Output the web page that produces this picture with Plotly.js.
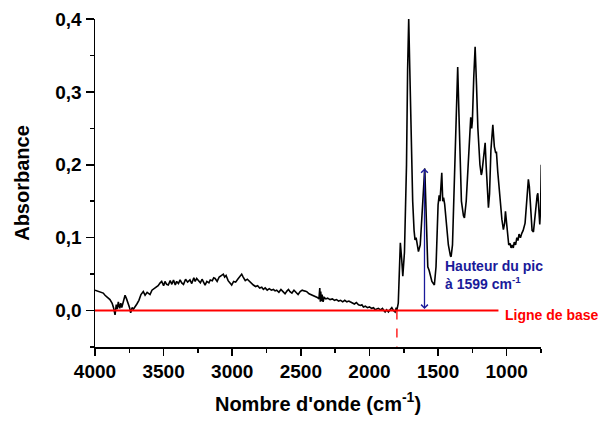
<!DOCTYPE html>
<html>
<head>
<meta charset="utf-8">
<script src="https://cdn.plot.ly/plotly-3.0.1.min.js"></script>
<style>html,body{margin:0;padding:0;background:#fff;}#chart{width:600px;height:423px;}</style>
</head>
<body>
<div id="chart"></div>
<script>
// Wavenumbers (cm-1) and absorbance
const wavenumber = [
4000,3980,3960,3940,3927,3910,3891,3875,3865,3854,3845,3838,3830,3820,3812,3805,3795,3781,3770,3757,3748,3740,3730,3720,3708,3695,3680,3665,3648,3635,3620,3599,3585,3570,3555,3540,3525,3514,3500,3490,3478,3466,3452,3440,3428,3415,3405,3392,3380,3368,3355,3340,3325,3308,3295,3280,3270,3259,3245,3232,3220,3210,3198,3185,3170,3160,3145,3135,3125,3110,3095,3080,3065,3055,3045,3030,3015,3004,2990,2975,2960,2945,2931,2920,2905,2890,2875,2860,2846,2830,2815,2800,2785,2773,2760,2745,2730,2715,2700,2688,2676,2660,2645,2630,2615,2600,2590,2579,2565,2550,2535,2520,2505,2490,2475,2457,2440,2425,2410,2395,2380,2368,2362,2358,2355,2350,2345,2338,2330,2318,2305,2287,2270,2255,2240,2225,2210,2195,2180,2165,2150,2141,2125,2110,2095,2080,2065,2055,2044,2030,2015,2000,1985,1970,1960,1947,1935,1920,1905,1895,1886,1875,1862,1850,1837,1825,1813,1805,1800,
1790,1775,1765,1757,1745,1730,1722,1714,1706,1695,1685,1675,1668,1660,1650,1643,1630,1615,1605,1597,1590,1580,1575,1565,1545,1527,1515,1500,1492,1486,1478,1473,1466,1460,1452,1440,1425,1410,1405,1395,1385,1375,1365,1357,1348,1340,1330,1315,1308,1295,1280,1268,1262,1255,1250,1240,1230,1220,1210,1195,1185,1180,1170,1157,1150,1140,1133,1125,1115,1101,1090,1080,1075,1065,1055,1048,1035,1024,1015,1009,1000,992,985,975,968,960,952,945,935,926,918,910,900,890,880,866,855,848,842,835,825,815,805,795,785,778,773,766,759,753,748
];
const absorbance = [
0.028,0.027,0.025,0.024,0.021,0.018,0.015,0.010,0.004,-0.006,0.008,0.002,0.012,0.003,0.010,0.004,0.012,0.021,0.016,0.010,0.004,-0.003,0.004,0.002,0.005,0.009,0.014,0.022,0.026,0.021,0.025,0.022,0.028,0.030,0.032,0.034,0.038,0.040,0.034,0.040,0.036,0.035,0.041,0.036,0.042,0.035,0.040,0.037,0.042,0.038,0.036,0.043,0.039,0.042,0.037,0.045,0.040,0.044,0.041,0.038,0.043,0.039,0.035,0.040,0.038,0.042,0.041,0.045,0.044,0.040,0.046,0.048,0.050,0.046,0.048,0.041,0.038,0.035,0.040,0.039,0.043,0.046,0.050,0.046,0.041,0.043,0.040,0.038,0.035,0.033,0.034,0.031,0.032,0.029,0.031,0.028,0.030,0.028,0.029,0.027,0.028,0.025,0.029,0.026,0.023,0.027,0.029,0.026,0.024,0.028,0.025,0.022,0.026,0.028,0.027,0.026,0.023,0.022,0.020,0.019,0.018,0.016,0.031,0.012,0.026,0.013,0.022,0.012,0.018,0.016,0.017,0.015,0.016,0.014,0.015,0.013,0.014,0.012,0.014,0.012,0.013,0.012,0.010,0.009,0.011,0.008,0.007,0.008,0.005,0.006,0.004,0.005,0.003,0.004,0.001,0.002,0.003,0.001,0.003,0.000,-0.002,0.001,-0.002,0.001,0.004,0.000,-0.002,0.004,0.001,
0.010,0.093,0.070,0.047,0.080,0.200,0.330,0.400,0.330,0.220,0.150,0.110,0.097,0.100,0.085,0.081,0.090,0.130,0.170,0.195,0.150,0.070,0.060,0.055,0.040,0.035,0.060,0.145,0.158,0.150,0.175,0.189,0.150,0.155,0.146,0.120,0.090,0.075,0.074,0.090,0.160,0.240,0.310,0.334,0.270,0.200,0.150,0.130,0.127,0.150,0.210,0.260,0.265,0.250,0.260,0.320,0.362,0.310,0.250,0.200,0.186,0.190,0.210,0.230,0.200,0.155,0.141,0.160,0.220,0.255,0.225,0.216,0.218,0.190,0.165,0.157,0.125,0.111,0.120,0.136,0.115,0.097,0.090,0.092,0.086,0.090,0.086,0.094,0.090,0.100,0.096,0.105,0.100,0.106,0.110,0.120,0.150,0.175,0.180,0.170,0.130,0.110,0.108,0.130,0.150,0.158,0.161,0.135,0.118,0.140,0.200
];
const xTickVals = [4000, 3500, 3000, 2500, 2000, 1500, 1000];
const yTickVals = [0.0, 0.1, 0.2, 0.3, 0.4];
const xRange = [4000, 750];
const yRange = [-0.05, 0.4];
// annotation anchors
const baselineEnd = 1060;     // end of red baseline
const riseStart = 1800;       // dashed red marker
const peakX = 1599;
const peakHeight = 0.195;

const FONT = 'Liberation Sans, Arial, sans-serif';
const navy = '#1a1a9a';

const traces = [
  {x: wavenumber, y: absorbance, type: 'scatter', mode: 'lines',
   line: {color: '#000', width: 1.6}, hoverinfo: 'skip'}
];

const layout = {
  width: 600, height: 423,
  margin: {l: 95, r: 59, t: 19, b: 76},
  paper_bgcolor: '#fff', plot_bgcolor: '#fff',
  separators: ', ',
  showlegend: false,
  font: {family: FONT, color: '#000'},
  xaxis: {
    range: xRange, autorange: false,
    tickvals: xTickVals, ticks: 'outside', ticklen: 7, tickwidth: 1.5, tickcolor: '#000',
    minor: {dtick: 250, tick0: 0, ticks: 'outside', ticklen: 4, tickwidth: 1.5, tickcolor: '#000', showgrid: false},
    showline: true, linecolor: '#000', linewidth: 1.5, showgrid: false, zeroline: false,
    tickfont: {family: FONT, size: 19, weight: 'bold', color: '#000'},
    title: {text: "Nombre d'onde (cm<sup>-1</sup>)", font: {family: FONT, size: 20, weight: 'bold', color: '#000'}, standoff: 15}
  },
  yaxis: {
    range: yRange, autorange: false,
    tickvals: yTickVals, tickformat: '.1f', ticks: 'outside', ticklen: 8, tickwidth: 1.5, tickcolor: '#000',
    minor: {dtick: 0.05, tick0: 0, ticks: 'outside', ticklen: 4, tickwidth: 1.5, tickcolor: '#000', showgrid: false},
    showline: true, linecolor: '#000', linewidth: 1.5, showgrid: false, zeroline: false,
    tickfont: {family: FONT, size: 19, weight: 'bold', color: '#000'},
    title: {text: 'Absorbance', font: {family: FONT, size: 20, weight: 'bold', color: '#000'}, standoff: 20}
  },
  shapes: [
    {type: 'line', xref: 'x', yref: 'y', x0: xRange[0], x1: baselineEnd, y0: 0, y1: 0,
     line: {color: '#ff0000', width: 2}},
    {type: 'line', xref: 'x', yref: 'y', x0: riseStart, x1: riseStart, y0: 0, y1: yRange[0],
     line: {color: '#ff0000', width: 1.3, dash: 'dash'}}
  ],
  annotations: [
    {x: peakX, y: peakHeight, ax: peakX, ay: 0, xref: 'x', yref: 'y', axref: 'x', ayref: 'y',
     text: '', showarrow: true, arrowhead: 4, startarrowhead: 4, arrowside: 'end+start',
     arrowsize: 1, arrowwidth: 1.3, arrowcolor: navy, standoff: 0, startstandoff: 0},
    {x: 1464, y: 0.049, xref: 'x', yref: 'y', xanchor: 'left', yanchor: 'middle', align: 'left',
     text: 'Hauteur du pic<br>à 1599 cm<sup>-1</sup>', showarrow: false,
     font: {family: FONT, size: 14, weight: 'bold', color: navy}},
    {x: 1026, y: -0.006, xref: 'x', yref: 'y', xanchor: 'left', yanchor: 'middle',
     text: 'Ligne de base', showarrow: false,
     font: {family: FONT, size: 14, weight: 'bold', color: '#ff0000'}}
  ]
};

Plotly.newPlot('chart', traces, layout, {staticPlot: true, displayModeBar: false});
</script>
</body>
</html>
